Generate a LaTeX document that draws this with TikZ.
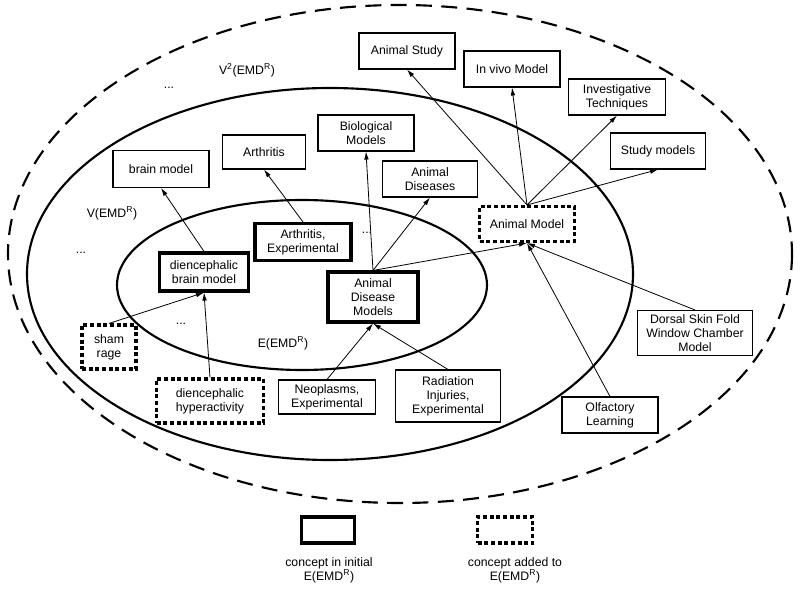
\documentclass[tikz,border=0pt]{standalone}
\usepackage{fontspec}
\setmainfont{Liberation Sans}
\usetikzlibrary{arrows.meta}
\begin{document}
\begin{tikzpicture}[x=0.75pt,y=-0.75pt,
  every node/.style={font=\fontsize{9.2}{10.5}\selectfont, align=center, inner sep=0pt},
  sz/.style 2 args={minimum width=0.75*#1 pt, minimum height=0.75*#2 pt},
  plain/.style={draw, line width=0.8pt, fill=white},
  initial/.style={draw, line width=2.3pt, fill=white},
  added/.style={draw, line width=2.3pt, dash pattern=on 3pt off 2pt, fill=white},
  conn/.style={line width=0.6pt, -{Latex[length=6pt,width=3.5pt]}},
  ell/.style={line width=1.6pt},
  lbl/.style={}
]
\useasboundingbox (0,0) rectangle (800,591);
% ellipses
\draw[ell, dash pattern=on 12pt off 7pt] (400,254) ellipse [x radius=392, y radius=249];
\draw[ell] (330,274) ellipse [x radius=303, y radius=186];
\draw[ell] (302,285) ellipse [x radius=185, y radius=85];

% labels
\node[lbl] (v2) at (247,70) {V\textsuperscript{2}(EMD\textsuperscript{R})};
\node[lbl] (d1) at (169,88) {...};
\node[lbl] (v1) at (112,213) {V(EMD\textsuperscript{R})};
\node[lbl] (d2) at (81,253) {...};
\node[lbl] (d3) at (181,324) {...};
\node[lbl] (d4) at (367,233) {...};
\node[lbl] (e1) at (283,343) {E(EMD\textsuperscript{R})};

% nodes
\node[plain, sz={96}{36}] (AS) at (407,51) {Animal Study};
\node[plain, sz={96}{36}] (IV) at (512,69) {In vivo Model};
\node[plain, sz={97}{36}] (IT) at (617,97) {Investigative\\Techniques};
\node[plain, sz={95}{36}] (SM) at (658,151) {Study models};
\node[plain, sz={96}{36}] (BM) at (366,133) {Biological\\Models};
\node[plain, sz={95}{36}] (AD) at (430,179) {Animal\\Diseases};
\node[plain, sz={83}{34}] (AR) at (264,152) {Arthritis};
\node[plain, sz={96}{37}] (BR) at (161,169) {brain model};
\node[initial, sz={96}{37}] (AE) at (303,242) {Arthritis,\\Experimental};
\node[initial, sz={89}{38}] (DBM) at (204,272) {diencephalic\\brain model};
\node[initial, sz={90}{50}] (ADM) at (373,297) {Animal\\Disease\\Models};
\node[added, sz={95}{35}] (AM) at (527,224) {Animal Model};
\node[added, sz={54}{44}] (SR) at (109,347) {sham\\rage};
\node[added, sz={107}{44}] (DH) at (210,401) {diencephalic\\hyperactivity};
\node[plain, sz={97}{34}] (NE) at (327,397) {Neoplasms,\\Experimental};
\node[plain, sz={105}{52}] (RI) at (448,396) {Radiation\\Injuries,\\Experimental};
\node[plain, sz={96}{36}] (OL) at (610,415) {Olfactory\\Learning};
\node[plain, sz={115}{45}] (DS) at (695,333) {Dorsal Skin Fold\\Window Chamber\\Model};

% connectors
\draw[conn] (AM.north) -- (AS.south);
\draw[conn] (AM.north) -- (IV.south);
\draw[conn] (AM.north) -- (IT.south);
\draw[conn] (AM.north) -- (SM.south);
\draw[conn] (ADM.north) -- (BM.south);
\draw[conn] (ADM.north) -- (AD.south);
\draw[conn] (ADM.north) -- (AM.south);
\draw[conn] (OL.north) -- (AM.south);
\draw[conn] (DS.north) -- (AM.south);
\draw[conn] (AE.north) -- (AR.south);
\draw[conn] (DBM.north) -- (BR.south);
\draw[conn] (SR.north) -- (DBM.south);
\draw[conn] (DH.north) -- (DBM.south);
\draw[conn] (NE.north) -- (ADM.south);
\draw[conn] (RI.north) -- (ADM.south);

% legend
\node[initial, sz={53}{26}] (L1) at (328,530) {};
\node[added, sz={55}{26}] (L2) at (505,530) {};
\node[lbl] (T1) at (329,570) {concept in initial\\E(EMD\textsuperscript{R})};
\node[lbl] (T2) at (515,570) {concept added to\\E(EMD\textsuperscript{R})};
\end{tikzpicture}
\end{document}
